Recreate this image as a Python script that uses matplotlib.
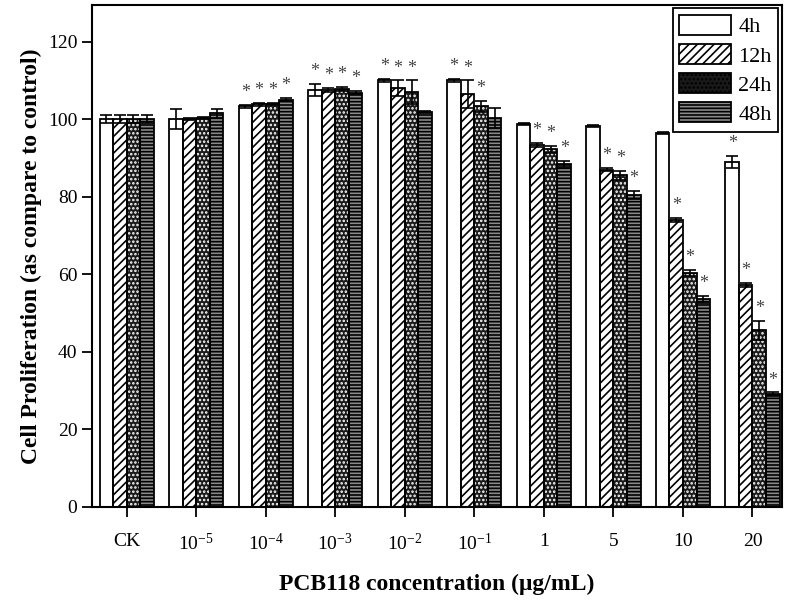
import numpy as np
import matplotlib
matplotlib.use('Agg')
from matplotlib import pyplot as plt
from matplotlib.patches import Patch

plt.rcParams['font.family'] = ['Liberation Serif', 'DejaVu Serif']
plt.rcParams['mathtext.fontset'] = 'custom'
plt.rcParams['mathtext.rm'] = 'Liberation Serif'
plt.rcParams['mathtext.it'] = 'Liberation Serif:italic'
plt.rcParams['hatch.linewidth'] = 1.2

# concentrations on the x axis
groups = ['CK', '$\\mathregular{10^{-5}}$', '$\\mathregular{10^{-4}}$', '$\\mathregular{10^{-3}}$',
          '$\\mathregular{10^{-2}}$', '$\\mathregular{10^{-1}}$', '1', '5', '10', '20']
series = ['4h', '12h', '24h', '48h']

# mean values per series
v4h = [100, 100, 103.3, 107.5, 110, 110, 98.8, 98.3, 96.5, 89]
v12h = [100, 100, 103.8, 107.5, 108, 106.5, 93.3, 87, 74, 57.3]
v24h = [100, 100.3, 104, 107.8, 107, 103.3, 92.2, 85.5, 60.3, 45.5]
v48h = [100, 101.5, 105, 106.8, 101.8, 100.3, 88.5, 80.5, 53.5, 29]

# error bars
e4h = [1, 2.5, 0.3, 1.5, 0.3, 0.3, 0.3, 0.3, 0.3, 1.5]
e12h = [1, 0.3, 0.3, 0.5, 2, 3.5, 0.5, 0.5, 0.5, 0.5]
e24h = [1, 0.3, 0.3, 0.5, 3, 1.5, 0.8, 1.2, 0.8, 2.5]
e48h = [1, 1.2, 0.4, 0.4, 0.3, 2.5, 0.8, 1, 1, 0.5]

# significance marks (1 = star)
s4h = [0, 0, 1, 1, 1, 1, 0, 0, 0, 1]
s12h = [0, 0, 1, 1, 1, 1, 1, 1, 1, 1]
s24h = [0, 0, 1, 1, 1, 1, 1, 1, 1, 1]
s48h = [0, 0, 1, 1, 0, 0, 1, 1, 1, 1]

values = [v4h, v12h, v24h, v48h]
errors = [e4h, e12h, e24h, e48h]
stars = [s4h, s12h, s24h, s48h]
# face, hatch, hatch colour
styles = [('white', '', 'black'),
          ('white', '////', 'black'),
          ('#1a1a1a', '....', 'white'),
          ('#8a8a8a', '-----', 'black')]

fig = plt.figure(figsize=(7.92, 6.04), dpi=100)
ax = fig.add_axes([0.116, 0.161, 0.871, 0.831])

x = np.arange(len(groups))
w = 0.195
for i in range(4):
    pos = x + (i - 1.5) * w
    face, hatch, hcol = styles[i]
    ax.bar(pos, values[i], w, color=face, edgecolor=hcol, hatch=hatch, linewidth=0, zorder=2)
    ax.bar(pos, values[i], w, fill=False, edgecolor='black', linewidth=1.3, zorder=3)
    ax.errorbar(pos, values[i], yerr=errors[i], fmt='none', ecolor='black',
                elinewidth=1.2, capsize=4, capthick=1.2, zorder=4)
    for j in range(len(groups)):
        if stars[i][j]:
            ax.text(pos[j], values[i][j] + errors[i][j] + 1.0, '*', ha='center', va='bottom',
                    fontsize=13, color='#444444', zorder=5)

ax.set_xlim(-0.5, 9.42)
ax.set_ylim(0, 129.5)
ax.set_xticks(x)
ax.set_xticklabels(groups, fontsize=14)
ax.set_yticks([0, 20, 40, 60, 80, 100, 120])
ax.tick_params(axis='both', which='major', labelsize=14, direction='out', length=7, width=1.3)
ax.tick_params(axis='x', pad=12)
for sp in ax.spines.values():
    sp.set_linewidth(1.5)

ax.set_xlabel('PCB118 concentration (μg/mL)', fontsize=17, fontweight='bold', labelpad=14)
ax.set_ylabel('Cell Proliferation (as compare to control)', fontsize=17, fontweight='bold')

handles = [Patch(facecolor=styles[i][0], edgecolor='black', hatch=styles[i][1], linewidth=1.3)
           for i in range(4)]
leg = ax.legend(handles, series, loc='upper right', fontsize=16, fancybox=False,
                edgecolor='black', framealpha=1, handlelength=2.3, handleheight=1.0,
                handletextpad=0.35, borderpad=0.3, borderaxespad=0.15, labelspacing=0.3)
leg.get_frame().set_linewidth(1.3)

plt.savefig('out.png', dpi=100)
